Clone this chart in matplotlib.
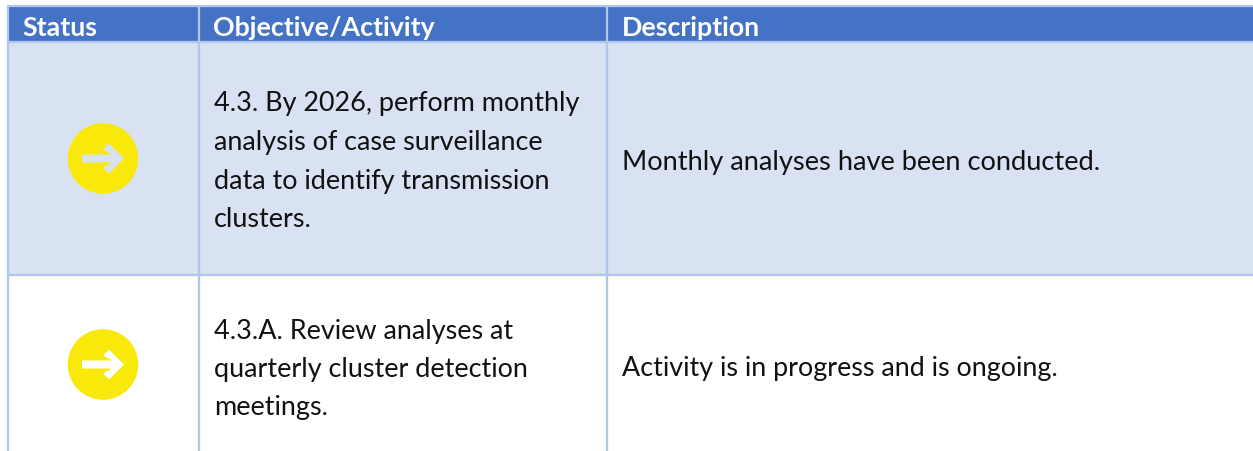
import matplotlib.pyplot as plt
from matplotlib.patches import Rectangle, Circle, Polygon

# table content
headers = ["Status", "Objective/Activity", "Description"]
objectives = [
    ["4.3. By 2026, perform monthly", "analysis of case surveillance", "data to identify transmission", "clusters."],
    ["4.3.A. Review analyses at", "quarterly cluster detection", "meetings."],
]
descriptions = ["Monthly analyses have been conducted.", "Activity is in progress and is ongoing."]
row_colors = ["#d9e2f3", "#ffffff"]

W, H = 1253, 451
col_x = [8, 199, 607, W + 5]
row_y = [6, 42, 275, 454]
icon_y = [158.5, 364.5]
first_baseline = [111.5, 339.5]
line_step = [38.5, 38.0]
desc_baseline = [170, 376]
desc_size = [27.2, 26.9]
border = "#b4c6e7"
header_bg = "#4472c4"
yellow = "#f9e90b"
font = "Lato"
px = 0.72  # pixels to points at dpi 100

fig = plt.figure(figsize=(W / 100, H / 100), dpi=100)
ax = fig.add_axes([0, 0, 1, 1])
ax.set_xlim(0, W)
ax.set_ylim(H, 0)
ax.axis("off")

# header band
ax.add_patch(Rectangle((col_x[0], row_y[0]), W - col_x[0] + 5, row_y[1] - row_y[0], fc=header_bg, ec="none"))
for i, h in enumerate(headers):
    ax.text(col_x[i] + 14.5, 35.5, h, color="white", fontsize=26.8 * px, fontweight="bold",
            family=font, va="baseline", ha="left")

# arrow icon shape, offsets from circle centre
arrow_dx = [-21, 9, 0, 6, 21, 6, 0, 9, -21]
arrow_dy = [-4, -4, -9, -15, 0, 15, 9, 4, 4]

for r in range(2):
    top, bottom = row_y[r + 1], row_y[r + 2]
    ax.add_patch(Rectangle((col_x[0], top), W - col_x[0] + 5, bottom - top, fc=row_colors[r], ec="none"))
    cy = icon_y[r]
    cx = (col_x[0] + col_x[1]) / 2 - 0.5
    ax.add_patch(Circle((cx, cy), 35.3, fc=yellow, ec="none", zorder=3))
    ax.add_patch(Polygon([(cx + a, cy + b) for a, b in zip(arrow_dx, arrow_dy)],
                         fc=row_colors[r], ec="none", zorder=4))
    for k, line in enumerate(objectives[r]):
        ax.text(col_x[1] + 15, first_baseline[r] + k * line_step[r], line, color="#111111",
                fontsize=27 * px, family=font, va="baseline", ha="left")
    ax.text(col_x[2] + 15, desc_baseline[r], descriptions[r], color="#111111", fontsize=desc_size[r] * px,
            family=font, va="baseline", ha="left")

# grid lines
for y in row_y[:3]:
    ax.plot([col_x[0] - 1, W], [y, y], color=border, lw=2.3 * px, zorder=2, solid_capstyle="butt")
for x in col_x[:3]:
    ax.plot([x, x], [row_y[0], H], color=border, lw=2.3 * px, zorder=2, solid_capstyle="butt")

fig.savefig("out.png", dpi=100)
